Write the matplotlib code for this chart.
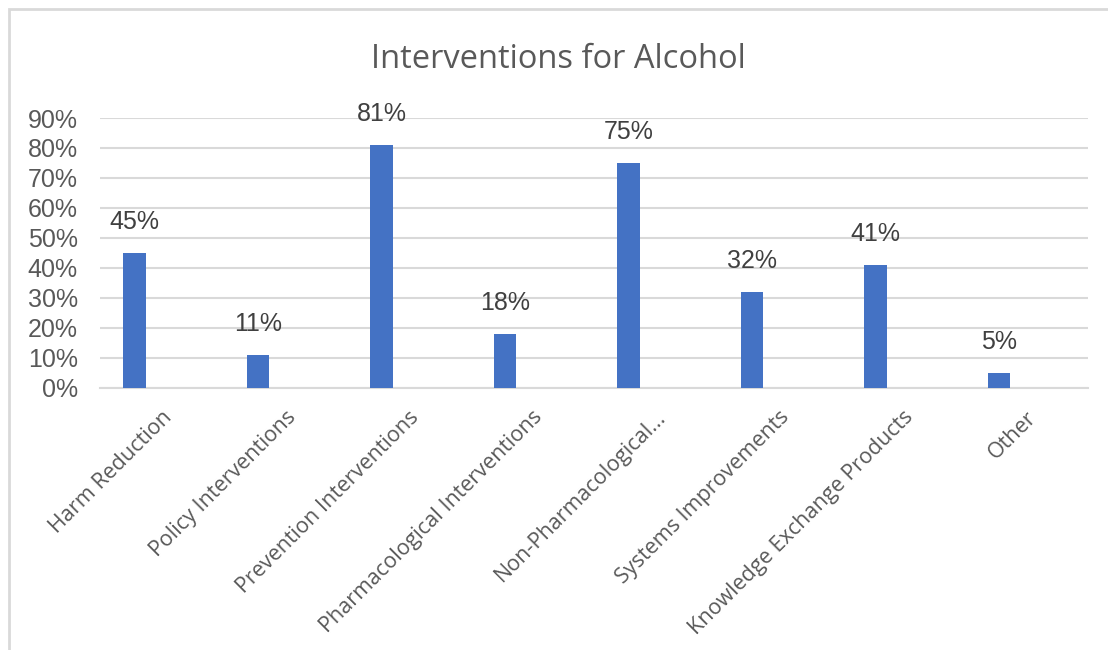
import numpy as np
import matplotlib.pyplot as plt
from matplotlib.patches import Rectangle
from matplotlib.ticker import MultipleLocator, FuncFormatter

categories = ["Harm Reduction", "Policy Interventions", "Prevention Interventions",
              "Pharmacological Interventions", "Non-Pharmacological...",
              "Systems Improvements", "Knowledge Exchange Products", "Other"]
values = [45, 11, 81, 18, 75, 32, 41, 5]
labels = ["45%", "11%", "81%", "18%", "75%", "32%", "41%", "5%"]

fig = plt.figure(figsize=(11.08, 6.5), dpi=100)
ax = fig.add_axes([100 / 1108, 262.5 / 650, 988 / 1108, 269.5 / 650])

# outer chart frame (only top and left edges visible in the reference)
fig.patches.append(Rectangle((9 / 1108, -0.1), 1.2, (641 / 650) + 0.1,
                             transform=fig.transFigure, fill=False,
                             edgecolor="#D9D9D9", linewidth=2))

x = np.arange(len(categories))
offset = -0.22
ax.bar(x + offset, values, width=0.18, color="#4472C4", zorder=3)

# data labels ~31 px above the bar tops
for xi, v, lab in zip(x, values, labels):
    ax.annotate(lab, (xi + offset, v), xytext=(0, 31 * 72 / 100), textcoords="offset points",
                ha="center", va="center", fontsize=18, color="#404040",
                family="Liberation Sans")

ax.set_xlim(-0.5, len(categories) - 0.5)
ax.set_ylim(0, 90)
ax.yaxis.set_major_locator(MultipleLocator(10))
ax.yaxis.set_major_formatter(FuncFormatter(lambda v, p: f"{int(round(v))}%"))
ax.grid(axis="y", color="#D9D9D9", linewidth=1.5, zorder=0)
ax.set_axisbelow(True)
for s in ["top", "right", "left"]:
    ax.spines[s].set_visible(False)
ax.spines["bottom"].set_color("#D9D9D9")
ax.spines["bottom"].set_linewidth(1.5)

ax.tick_params(axis="y", length=0, pad=16, labelsize=18, labelcolor="#595959")
for t in ax.get_yticklabels():
    t.set_family("Liberation Sans")
ax.set_xticks(x)
ax.set_xticklabels(categories, rotation=45, ha="right", rotation_mode="anchor",
                   fontsize=15.5, color="#595959", family="Open Sans")
ax.tick_params(axis="x", length=0, pad=14)

fig.text(558 / 1108, 1 - 60 / 650, "Interventions for Alcohol", ha="center", va="center",
         fontsize=23.5, color="#595959", family="Open Sans")

fig.savefig("out.png", dpi=100)
